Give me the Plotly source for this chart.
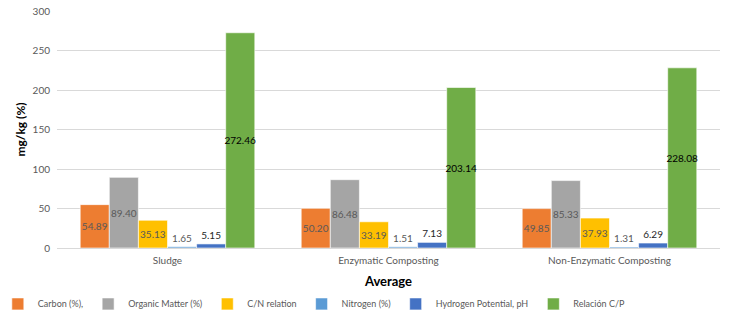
import plotly.graph_objects as go

categories = ["Sludge", "Enzymatic Composting", "Non-Enzymatic Composting"]
series_names = ["Carbon (%),", "Organic Matter (%)", "C/N relation", "Nitrogen (%)",
                "Hydrogen Potential, pH", "Relación C/P"]
carbon = [54.89, 50.20, 49.85]
organic_matter = [89.40, 86.48, 85.33]
cn_relation = [35.13, 33.19, 37.93]
nitrogen = [1.65, 1.51, 1.31]
ph = [5.15, 7.13, 6.29]
cp_relation = [272.46, 203.14, 228.08]
y_ticks = [0, 50, 100, 150, 200, 250, 300]

series_values = [carbon, organic_matter, cn_relation, nitrogen, ph, cp_relation]
colors = ["#ED7D31", "#A5A5A5", "#FFC000", "#5B9BD5", "#4472C4", "#70AD47"]
text_pos = ["inside", "inside", "inside", "outside", "outside", "inside"]
text_colors = ["#595959", "#595959", "#595959", "#595959", "#262626", "#000000"]

FONT = "Lato, 'Liberation Sans', sans-serif"

fig = go.Figure()
for name, vals, col, tp, tc in zip(series_names, series_values, colors, text_pos, text_colors):
    fig.add_trace(go.Bar(
        x=categories, y=vals, name=name,
        marker=dict(color=col, line=dict(color="rgba(255,255,255,0.6)", width=1)),
        text=[f"{v:.2f}" for v in vals], textposition=tp,
        insidetextanchor="middle", textangle=0, constraintext="none",
        textfont=dict(color=tc, size=10, family=FONT),
        outsidetextfont=dict(color=tc, size=10, family=FONT),
        cliponaxis=False,
    ))

fig.update_layout(
    width=731, height=330,
    margin=dict(l=57, r=11, t=11, b=82, autoexpand=False),
    barmode="group", bargap=0.21, bargroupgap=0,
    plot_bgcolor="white", paper_bgcolor="white",
    font=dict(family=FONT, color="#595959", size=10),
    uniformtext=dict(mode=False),
    legend=dict(orientation="h", xref="container", x=0.43, xanchor="center",
                yref="container", y=0.079, yanchor="middle",
                font=dict(size=9, color="#595959"), itemwidth=30,
                tracegroupgap=0, traceorder="normal"),
    xaxis=dict(showline=False, ticks="", automargin=False, ticklabelstandoff=5,
               tickfont=dict(size=10, color="#595959"),
               title=dict(text="<b>Average</b>", font=dict(size=13, color="#000000"), standoff=14)),
    yaxis=dict(range=[0, 300], tickvals=y_ticks, gridcolor="#D9D9D9", gridwidth=1,
               automargin=False, ticklabeloverflow="allow",
               zeroline=True, zerolinecolor="#D9D9D9", zerolinewidth=1,
               tickfont=dict(size=10, color="#595959"), ticks="", ticklabelstandoff=6,
               title=dict(text="<b>mg/kg (%)</b>", font=dict(size=12, color="#000000"), standoff=4)),
)

fig.write_html("out.html", config={"displayModeBar": False},
               post_script="document.body.style.margin='0';")
